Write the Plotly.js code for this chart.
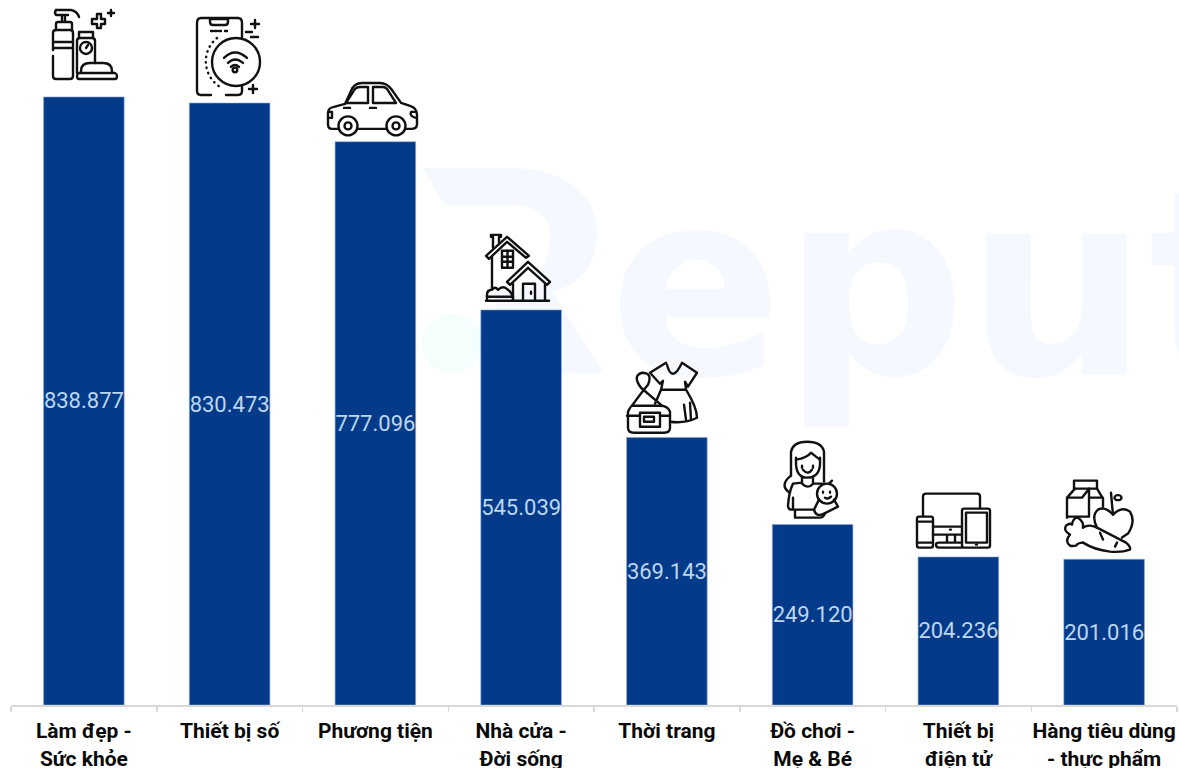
<!DOCTYPE html>
<html><head><meta charset="utf-8">
<script src="https://cdn.plot.ly/plotly-3.0.1.min.js"></script>
<style>html,body{margin:0;padding:0;background:#fff;overflow:hidden}#c{width:1179px;height:768px}</style>
</head><body><div id="c"></div>
<script>
var categories = ["Làm đẹp -<br>Sức khỏe","Thiết bị số","Phương tiện","Nhà cửa -<br>Đời sống","Thời trang","Đồ chơi -<br>Mẹ &amp; Bé","Thiết bị<br>điện tử","Hàng tiêu dùng<br>- thực phẩm"];
var values = [838877,830473,777096,545039,369143,249120,204236,201016];

var W = 1179, H = 768, ML = 11, MR = 2, PH = 705.5;
var PW = W - ML - MR;
function fx(p){return (p-ML)/PW;}
function fy(p){return 1-p/PH;}

var icons = [
 {box:[50,8,69,74], art:
  '<path d="M56 10H71Q77 11 79 17M56 10Q54 13 56 15H68M62 15V22M65 15V22M56 30V24Q56 22 58 22H70Q72 22 72 24V30"/>'+
  '<path d="M53 50V33Q53 30 56 30H70Q73 30 73 33V76Q73 79 70 79H56Q53 79 53 76V56M53 42H73M53 48H73"/>'+
  '<path d="M77 73V41Q77 38 80 38H92Q95 38 95 41V63M79 38V32H93V38"/><circle cx="86" cy="48" r="6"/><path d="M86 48L88 45"/>'+
  '<path d="M79 73H115Q117 74 117 76Q117 79 115 79H79Q77 79 77 76Q77 74 79 73ZM81 73V71Q81 63 90 63H103Q112 63 112 71V73"/>'+
  '<path d="M97 17V14H101V19H105V24H101V28H97V24H92V19H97Z"/><path d="M111 10V16M108 13H114"/>'},
 {box:[194,16,68,82], art:
  '<path d="M211 95H201Q197 95 197 91V23Q197 18 201 18H238Q242 18 242 23V37M242 86V91Q242 95 238 95H226"/><path d="M210 19H228V22Q228 25 225 25H213Q210 25 210 22Z"/><path d="M211 31H213M215 31H217M219 31H221M225 31H227"/>'+
  '<path d="M217 38A30 30 0 0 0 222 88" stroke-dasharray="0.5 5"/><circle cx="236" cy="62" r="24" fill="#fff"/>'+
  '<path d="M224 58Q235 47 247 58M228 63Q235 56 243 63M231 67Q235 63 239 67"/><circle cx="235" cy="70" r="2.3"/>'+
  '<path d="M255 20V28M251 24H259M246 32H252M251 37H258M253 85V93M249 89H257"/>'},
 {box:[325,81,94,56], art:
  '<path d="M338 129H332Q328 129 328 124V113Q328 108 334 107L345 104L351 91Q354 83 362 83H380Q387 83 392 90L401 103L410 106Q417 108 417 115V124Q417 129 411 129H406M386 129H358"/>'+
  '<path d="M346 103L355 89Q357 87 360 87H368V103ZM373 87H383Q385 87 387 89L396 103H373Z"/><path d="M344 108H350M370 108H376M329 112H332V118H328M416 112H411Q409 116 416 118"/>'+
  '<circle cx="348" cy="126" r="9.5" fill="#fff"/><circle cx="348" cy="126" r="3.5"/><circle cx="396" cy="126" r="9.5" fill="#fff"/><circle cx="396" cy="126" r="3.5"/>'},
 {box:[483,233,70,70], art:
  '<path d="M493 248V237H491V235H501V237H499V243"/><path d="M486 256L507 237L529 256L526 258L507 242L489 259Z"/>'+
  '<path d="M492 257V289"/><path d="M507 282L528 262L550 282L547 285L528 268L510 285Z"/><path d="M513 284V301M545 284V301M523 301V284H535V301M531 292V294"/>'+
  '<rect x="502" y="251" width="11" height="17"/><path d="M507.500 251V268M502 257H513M502 262H513"/>'+
  '<path d="M487 301V295Q487 290 492 290Q495 286 498 290Q503 285 508 290Q512 293 513 298V301"/><path d="M486 301H549"/><path d="M487 297H513"/>'},
 {box:[623,360,77,75], art:
  '<path d="M667 365Q672 384 682 363L697 373L688 387L685 382L686 390Q697 408 697 418Q685 424 670 422M650 373L666 363M650 373L660 384L663 381L661 390H685M661 390L655 404"/>'+
  '<path d="M684 405L686 420M690 403L691 420"/>'+
  '<path d="M632 406Q631 406 628 412V428Q628 433 634 433H664Q670 433 670 428V412Q668 406 660 406Z" fill="#fff"/>'+
  '<path d="M627 416H640M660 416H670"/><path d="M640 413H660V427H640ZM644 417H654V422H644Z"/><path d="M632 406Q642 392 648 385Q653 373 642 373Q632 376 641 388L662 406"/>'},
 {box:[781,438,60,84], art:
  '<path d="M791 476V452Q793 442 807 442Q822 442 824 452V482"/><path d="M796 460Q807 458 811 453Q817 458 820 460"/><path d="M796 458V465Q797 478 807 478Q819 478 820 465V458"/>'+
  '<path d="M802 466V468M813 466V468M803 470Q808 476 812 470M802 477V484Q808 490 813 484V477"/>'+
  '<path d="M791 476Q783 482 785 488Q787 492 790 493M802 483L793 484Q789 492 788 506Q788 510 792 510H813M793 498V510M795 510V518H820Q823 518 825 514M813 484L822 484"/>'+
  '<circle cx="827" cy="494" r="10" fill="#fff"/><path d="M823 492V493M830 492V493M825 498Q828 500 831 497M829 484L832 481"/><path d="M819 500L814 510Q816 518 824 514L838 507L834 500"/>'},
 {box:[915,492,77,59], art:
  '<path d="M923 516V497Q923 494 926 494H977Q980 494 980 497V508M933 527H962M933 535H962"/>'+
  '<rect x="962" y="509" width="28" height="39" rx="2"/><rect x="966" y="513" width="21" height="30"/><path d="M976 545H977"/>'+
  '<rect x="917" y="517" width="16" height="31" rx="2"/><path d="M917 522H933M917 543H933"/>'+
  '<path d="M947 536V543M955 536V543M962 548H939Q936 548 936 545Q936 543 939 543H962M950 530H951"/>'},
 {box:[1062,479,75,76], art:
  '<rect x="1074" y="481" width="23" height="8"/><path d="M1075 489L1067 498V518M1097 489L1103 499V507M1089 489V517M1089 489L1082 498H1067M1090 498H1103M1067 517H1089"/>'+
  '<path d="M1097 528Q1091 516 1098 510Q1105 506 1113 515Q1122 506 1130 512Q1136 522 1128 534L1122 538"/><path d="M1113 515Q1112 505 1111 493"/><ellipse cx="1118" cy="498" rx="3.500" ry="2.500"/>'+
  '<path d="M1083 528Q1089 524 1097 528L1126 543Q1131 547 1130 550Q1122 553 1110 552Q1094 550 1083 543"/><path d="M1100 533L1103 540M1117 543L1115 547"/>'+
  '<path d="M1083 543Q1078 543 1076 546Q1068 548 1067 541Q1068 537 1070 535Q1063 531 1066 526Q1070 523 1072 525Q1073 518 1078 518Q1084 522 1083 528"/>'}
];

var images = icons.map(function(ic){
  var b = ic.box;
  var svg = '<svg xmlns="http://www.w3.org/2000/svg" width="'+b[2]+'" height="'+b[3]+'" viewBox="'+b[0]+' '+b[1]+' '+b[2]+' '+b[3]+'"><g fill="none" stroke="#111" stroke-width="2.4" stroke-linecap="round" stroke-linejoin="round">'+ic.art+'</g></svg>';
  return {source:'data:image/svg+xml;charset=utf-8,'+encodeURIComponent(svg),
    xref:'paper',yref:'paper',x:fx(b[0]),y:fy(b[1]),sizex:b[2]/PW,sizey:b[3]/PH,
    xanchor:'left',yanchor:'top',sizing:'stretch',layer:'above'};
});

var rPts = [['M',422,168],['L',510,168],['C',565,168,597,195,597,232],['C',597,265,580,285,552,292],['L',604,373],['L',530,373],['L',495,310],['L',495,292],['L',510,292],['C',535,290,550,262,550,232],['C',550,218,535,205,510,205],['L',445,205],['Z']];
var rPath = rPts.map(function(s){
  var o = s[0];
  for(var i=1;i<s.length;i+=2){o += (i>1?' ':'')+fx(s[i])+','+fy(s[i+1]);}
  return o;
}).join(' ');

var shapes = [
 {type:'path',xref:'paper',yref:'paper',path:rPath,fillcolor:'#F5F8FF',line:{width:0},layer:'below'},
 {type:'circle',xref:'paper',yref:'paper',x0:fx(422),x1:fx(482),y0:fy(373),y1:fy(314),fillcolor:'#F3FEFD',line:{width:0},layer:'below'},
 {type:'rect',xref:'paper',yref:'paper',x0:fx(606),x1:fx(1500),y0:fy(130),y1:fy(405),fillcolor:'rgba(0,0,0,0)',line:{width:0},layer:'below',
  label:{text:'eput',textposition:'middle left',padding:0,font:{family:'DejaVu Sans',size:256,weight:700,color:'#F5F8FF'}}}
];

var data = [{
  type:'bar',x:categories,y:values,
  marker:{color:'#033A8A',line:{color:'#8FA9D3',width:0.6}},
  texttemplate:'%{y:,.0f}',textposition:'inside',insidetextanchor:'middle',
  textangle:0,constraintext:'none',
  textfont:{family:'Roboto',size:22,color:'#BDD7EE'},hoverinfo:'x+y'
}];

var layout = {
  width:W,height:H,margin:{l:ML,r:MR,t:0,b:H-PH,pad:0},
  paper_bgcolor:'#fff',plot_bgcolor:'rgba(0,0,0,0)',showlegend:false,
  separators:',.',bargap:0.447,
  font:{family:'Roboto'},
  xaxis:{type:'category',tickson:'boundaries',ticks:'outside',ticklen:5,tickwidth:1.5,tickcolor:'#D9D9D9',
    showline:true,linecolor:'#D9D9D9',linewidth:2,showgrid:false,zeroline:false,automargin:false,
    tickangle:0,tickfont:{family:'Roboto',size:21,weight:700,color:'#0A0A0A'},ticklabelstandoff:6},
  yaxis:{visible:false,range:[0,PH/(608.5/838877)],fixedrange:true},
  images:images,shapes:shapes
};
Plotly.newPlot('c',data,layout,{displayModeBar:false,staticPlot:true});
</script></body></html>
